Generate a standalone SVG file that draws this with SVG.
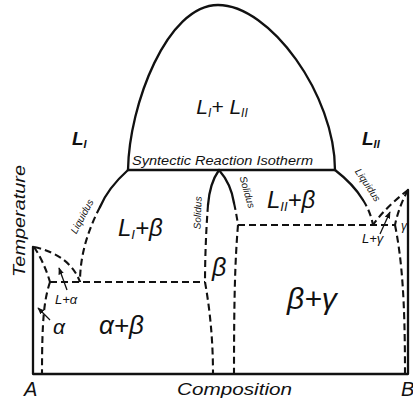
<svg xmlns="http://www.w3.org/2000/svg" width="413" height="400" viewBox="0 0 413 400">
<defs>
<style>
.s{fill:none;stroke:#111;stroke-width:2.3;stroke-linecap:round;stroke-linejoin:round}
.d{fill:none;stroke:#111;stroke-width:2.1;stroke-dasharray:7 4}
.a{fill:none;stroke:#111;stroke-width:1.3}
.t{font-family:"Liberation Sans","DejaVu Sans",sans-serif;font-style:italic;fill:#111}
</style>
<marker id="ah" viewBox="0 0 10 10" refX="9" refY="5" markerWidth="7" markerHeight="7" orient="auto" markerUnits="userSpaceOnUse">
<path d="M0,1 L10,5 L0,9 Z" fill="#111"/>
</marker>
</defs>
<rect width="413" height="400" fill="#fff"/>
<g id="frame">
<path class="s" d="M33,247 L33,374 L408,374 L408,190"/>
</g>
<g id="connectors">
<!-- dome -->
<path class="s" d="M128,170 C129,105 167,5 218,5 C270,5 335,95 335,170"/>
<!-- syntectic isotherm -->
<path class="s" d="M128,170 L335,170"/>
<!-- left liquidus -->
<path class="s" d="M128,170 Q108,188 100,207"/>
<path class="d" d="M100,207 C88,230 80,255 80,282"/>
<!-- alpha -->
<path class="d" d="M34,247 Q70,255 80,282"/>
<path class="d" d="M34,247 Q44,262 50,282"/>
<path class="d" d="M50,282 C44,300 42,320 42,374"/>
<path class="d" d="M50,282 L205,282"/>
<!-- beta left -->
<path class="s" d="M219,170 C212,180 209,192 208,205"/>
<path class="d" d="M208,205 C206,230 205,260 205,282"/>
<path class="d" d="M205,282 C210,310 213,340 213,374"/>
<!-- beta right -->
<path class="s" d="M219,170 C226,178 232,190 234,203"/>
<path class="d" d="M234,203 C236,212 237,218 238,225"/>
<path class="d" d="M238,225 C235,260 234,300 234,374"/>
<path class="d" d="M238,225 L395,225"/>
<!-- right liquidus -->
<path class="s" d="M335,170 C348,180 357,190 363,200"/>
<path class="d" d="M363,200 C368,208 371,215 373,225"/>
<!-- gamma -->
<path class="d" d="M408,190 C395,200 382,212 373,225"/>
<path class="d" d="M408,190 Q399,206 395,225"/>
<path class="d" d="M395,225 C402,260 405,300 405,374"/>
<!-- pointer arrows -->
<path class="a" d="M67,290 L59,268" marker-end="url(#ah)"/>
<path class="a" d="M50,320 L38,308" marker-end="url(#ah)"/>
<path class="a" d="M380,234 L390,212" marker-end="url(#ah)"/>
</g>
<g id="labels">
<text class="t" x="222" y="114" font-size="21" text-anchor="middle">L<tspan font-size="12" dy="3">I</tspan><tspan dy="-3">+ L</tspan><tspan font-size="12" dy="3">II</tspan></text>
<text class="t" x="72" y="145" font-size="19" font-weight="bold">L<tspan font-size="11" dy="3">I</tspan></text>
<text class="t" x="362" y="145" font-size="19" font-weight="bold">L<tspan font-size="11" dy="3">II</tspan></text>
<text class="t" x="132" y="165" font-size="12.5" textLength="181" lengthAdjust="spacingAndGlyphs">Syntectic Reaction Isotherm</text>
<text class="t" x="118" y="236" font-size="24">L<tspan font-size="13" dy="3">I</tspan><tspan dy="-3">+β</tspan></text>
<text class="t" x="267" y="208" font-size="24">L<tspan font-size="13" dy="3">II</tspan><tspan dy="-3">+β</tspan></text>
<text class="t" x="212" y="276" font-size="25">β</text>
<text class="t" x="287" y="309" font-size="30">β+γ</text>
<text class="t" x="99" y="334" font-size="26">α+β</text>
<text class="t" x="53" y="334" font-size="21">α</text>
<text class="t" x="55" y="304" font-size="13">L+α</text>
<text class="t" x="362" y="243" font-size="13">L+γ</text>
<text class="t" x="401" y="230" font-size="12">γ</text>
<text class="t" font-size="10" text-anchor="middle" transform="translate(85,218) rotate(-62)">Liquidus</text>
<text class="t" font-size="10" text-anchor="middle" transform="translate(201,213) rotate(-88)">Solidus</text>
<text class="t" font-size="10" text-anchor="middle" transform="translate(244,193) rotate(74)">Solidus</text>
<text class="t" font-size="10" text-anchor="middle" transform="translate(365,187) rotate(56)">Liquidus</text>
<text class="t" font-size="17" text-anchor="middle" textLength="112" lengthAdjust="spacingAndGlyphs" transform="translate(25,221) rotate(-90)">Temperature</text>
<text class="t" x="24" y="396" font-size="20">A</text>
<text class="t" x="177" y="395" font-size="17" textLength="115" lengthAdjust="spacingAndGlyphs">Composition</text>
<text class="t" x="401" y="396" font-size="20">B</text>
</g>
</svg>
